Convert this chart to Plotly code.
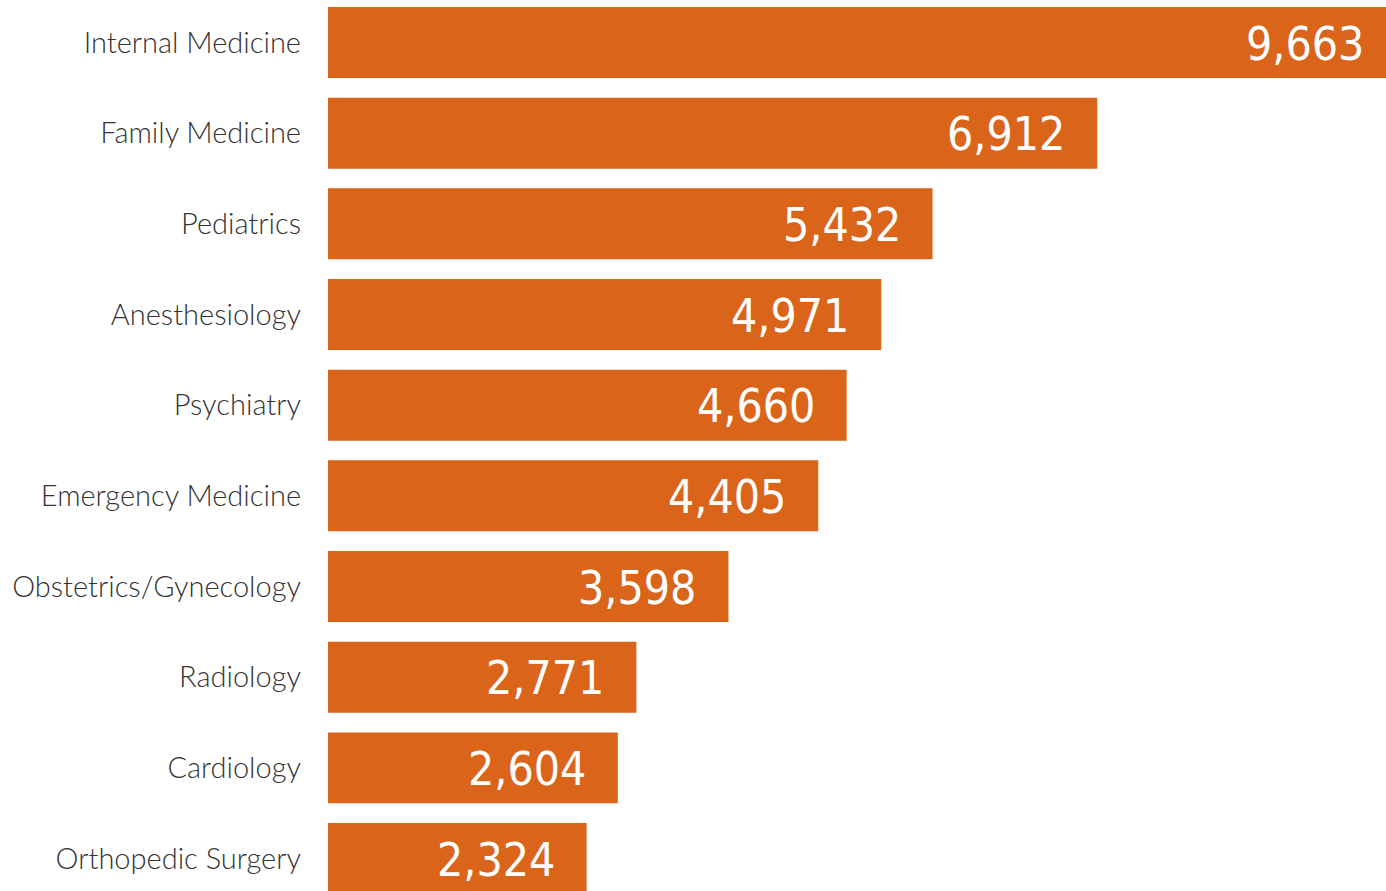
import plotly.graph_objects as go

specialties = ["Internal Medicine", "Family Medicine", "Pediatrics", "Anesthesiology",
               "Psychiatry", "Emergency Medicine", "Obstetrics/Gynecology", "Radiology",
               "Cardiology", "Orthopedic Surgery"]
counts = [9663, 6912, 5432, 4971, 4660, 4405, 3598, 2771, 2604, 2324]
value_labels = ["9,663", "6,912", "5,432", "4,971", "4,660", "4,405", "3,598", "2,771", "2,604", "2,324"]

BAR_COLOR = "#DA651A"
XMAX = 9506  # the top bar runs past the right edge in the original

fig = go.Figure(go.Bar(
    x=counts, y=specialties, orientation="h",
    marker=dict(color=BAR_COLOR, line=dict(width=0)),
    hoverinfo="x+y",
))

for name, v, lab in zip(specialties, counts, value_labels):
    clipped = v > XMAX
    fig.add_annotation(
        x=min(v, XMAX), y=name, xref="x", yref="y",
        text=lab, showarrow=False, xanchor="right", yanchor="middle",
        xshift=-20 if clipped else -30, yshift=-1,
        font=dict(family="Liberation Sans Narrow, DejaVu Sans Condensed, Roboto Condensed, sans-serif",
                  size=46, color="white"),
    )

fig.update_layout(
    width=1386, height=891,
    margin=dict(l=328, r=0, t=0, b=0),
    plot_bgcolor="white", paper_bgcolor="white",
    bargap=0.217,
    showlegend=False,
    xaxis=dict(range=[0, XMAX], visible=False, showgrid=False, zeroline=False, fixedrange=True),
    yaxis=dict(
        categoryorder="array", categoryarray=specialties,
        range=[9.358, -0.469],
        showgrid=False, zeroline=False, showline=False, ticks="",
        ticklabelstandoff=26,
        tickfont=dict(family="Lato, Open Sans, sans-serif", size=29, color="#333333", weight=300),
    ),
)

fig.write_html("out.html")
